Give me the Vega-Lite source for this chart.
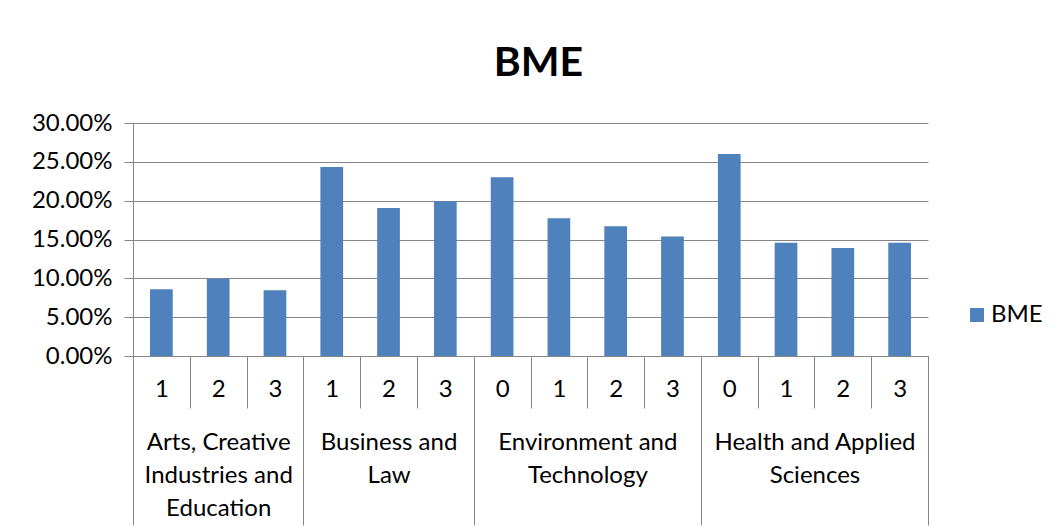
{
  "$schema": "https://vega.github.io/schema/vega-lite/v6.json",
  "width": 795,
  "height": 233,
  "autosize": {"type": "none"},
  "padding": {"left": 133, "top": 123, "right": 129, "bottom": 174},
  "background": "white",
  "config": {"view": {"stroke": null}, "font": "Lato"},
  "title": {
    "text": "BME",
    "font": "Lato",
    "fontSize": 41,
    "fontWeight": "bold",
    "color": "#000000",
    "anchor": "middle",
    "frame": "group",
    "offset": 26,
    "dx": 8
  },
  "data": {
    "values": [
      {"faculty": "Arts, Creative Industries and Education", "level": "1", "key": "Arts|1", "pct": 0.0859},
      {"faculty": "Arts, Creative Industries and Education", "level": "2", "key": "Arts|2", "pct": 0.0997},
      {"faculty": "Arts, Creative Industries and Education", "level": "3", "key": "Arts|3", "pct": 0.0847},
      {"faculty": "Business and Law", "level": "1", "key": "Bus|1", "pct": 0.2432},
      {"faculty": "Business and Law", "level": "2", "key": "Bus|2", "pct": 0.1904},
      {"faculty": "Business and Law", "level": "3", "key": "Bus|3", "pct": 0.1994},
      {"faculty": "Environment and Technology", "level": "0", "key": "Env|0", "pct": 0.2303},
      {"faculty": "Environment and Technology", "level": "1", "key": "Env|1", "pct": 0.1775},
      {"faculty": "Environment and Technology", "level": "2", "key": "Env|2", "pct": 0.1672},
      {"faculty": "Environment and Technology", "level": "3", "key": "Env|3", "pct": 0.1538},
      {"faculty": "Health and Applied Sciences", "level": "0", "key": "Hea|0", "pct": 0.2600},
      {"faculty": "Health and Applied Sciences", "level": "1", "key": "Hea|1", "pct": 0.1457},
      {"faculty": "Health and Applied Sciences", "level": "2", "key": "Hea|2", "pct": 0.1392},
      {"faculty": "Health and Applied Sciences", "level": "3", "key": "Hea|3", "pct": 0.1457}
    ]
  },
  "encoding": {
    "y": {
      "field": "pct",
      "type": "quantitative",
      "scale": {"domain": [0, 0.3], "nice": false},
      "axis": {
        "title": null,
        "values": [0, 0.05, 0.1, 0.15, 0.2, 0.25, 0.3],
        "format": ".2%",
        "grid": true,
        "gridColor": "#868686",
        "gridWidth": 1,
        "domainColor": "#868686",
        "tickColor": "#868686",
        "tickSize": 9,
        "labelFont": "Lato",
        "labelFontSize": 24,
        "labelColor": "#000000",
        "labelPadding": 12
      }
    }
  },
  "layer": [
    {
      "mark": {"type": "bar", "width": {"band": 0.4}},
      "encoding": {
        "x": {
          "field": "key",
          "type": "nominal",
          "sort": null,
          "scale": {"paddingInner": 0, "paddingOuter": 0},
          "axis": {
            "orient": "bottom",
            "title": null,
            "labelExpr": "split(datum.label, '|')[1]",
            "labelAngle": 0,
            "labelFont": "Lato",
            "labelFontSize": 24,
            "labelColor": "#000000",
            "labelBaseline": "middle",
            "labelPadding": -19,
            "labelOverlap": false,
            "tickBand": "extent",
            "tickSize": 52,
            "tickColor": "#868686",
            "tickWidth": 1,
            "domainColor": "#868686",
            "domainWidth": 1,
            "grid": false
          }
        },
        "color": {
          "datum": "BME",
          "type": "nominal",
          "scale": {"range": ["#4F81BD"]},
          "legend": {
            "title": null,
            "orient": "none",
            "legendX": 832,
            "legendY": 180,
            "padding": 0,
            "symbolType": "square",
            "symbolSize": 196,
            "symbolStrokeWidth": 0,
            "labelFont": "Lato",
            "labelFontSize": 24,
            "labelColor": "#000000",
            "labelOffset": 2
          }
        }
      }
    },
    {
      "mark": {"type": "bar", "width": {"band": 0.4}, "opacity": 0},
      "encoding": {
        "x": {
          "field": "key",
          "type": "nominal",
          "sort": null,
          "axis": {
            "orient": "bottom",
            "title": null,
            "values": ["Arts|1", "Arts|3", "Bus|3", "Env|3", "Hea|3"],
            "domain": false,
            "grid": false,
            "tickBand": "extent",
            "tickSize": 169,
            "tickColor": "#868686",
            "tickWidth": 1,
            "tickOpacity": {"condition": {"test": "datum.value === 'Arts|1'", "value": 0}, "value": 1},
            "labelExpr": "datum.value === 'Arts|3' ? ['Arts, Creative', 'Industries and', 'Education'] : datum.value === 'Bus|3' ? ['Business and', 'Law'] : datum.value === 'Env|3' ? ['Environment and', 'Technology'] : datum.value === 'Hea|3' ? ['Health and Applied', 'Sciences'] : ''",
            "labelOffset": {"condition": {"test": "datum.value === 'Arts|3' || datum.value === 'Bus|3'", "value": -56.75}, "value": -85.125},
            "labelAngle": 0,
            "labelAlign": "center",
            "labelBaseline": "top",
            "labelPadding": -95,
            "labelLineHeight": 33,
            "labelFont": "Lato",
            "labelFontSize": 24,
            "labelColor": "#000000",
            "labelLimit": 0,
            "labelOverlap": false
          }
        }
      }
    }
  ],
  "resolve": {"axis": {"x": "independent"}}
}
